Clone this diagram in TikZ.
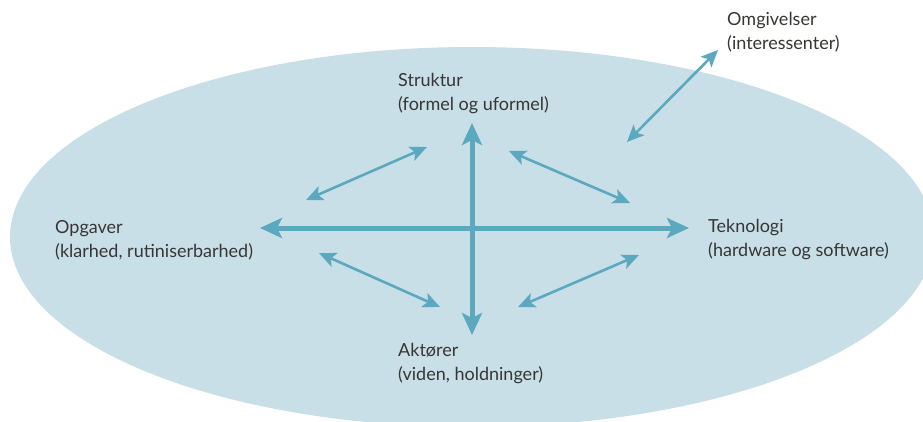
\documentclass[tikz,border=0pt]{standalone}
\usepackage{fontspec}
\setmainfont{Lato}
\usetikzlibrary{arrows.meta}
\definecolor{bgblue}{HTML}{C8DFE8}
\definecolor{arrblue}{HTML}{5BA8BF}
\definecolor{txt}{HTML}{383634}
\tikzset{
  lbl/.style={anchor=west, align=left, text=txt, inner sep=0pt, font=\fontsize{18}{24}\selectfont},
  bigarrow/.style={draw=arrblue, line width=5pt, {Stealth[length=22pt,width=20pt,inset=5pt]}-{Stealth[length=22pt,width=20pt,inset=5pt]}},
  smallarrow/.style={draw=arrblue, line width=2.6pt, {Stealth[length=17pt,width=15pt,inset=4pt]}-{Stealth[length=17pt,width=15pt,inset=4pt]}}
}
\begin{document}
\begin{tikzpicture}[x=1pt,y=-1pt]
\useasboundingbox (0,0) rectangle (923,421);
\clip (0,0) rectangle (923,421);
\fill[bgblue] (472,237) ellipse [x radius=462, y radius=190];
% labels
\node[lbl] (omg) at (727,32) {Omgivelser\\(interessenter)};
\node[lbl] (str) at (398,94) {Struktur\\(formel og uformel)};
\node[lbl] (opg) at (55,240) {Opgaver\\(klarhed, rutiniserbarhed)};
\node[lbl] (tek) at (708,240) {Teknologi\\(hardware og software)};
\node[lbl] (akt) at (398,364) {Aktører\\(viden, holdninger)};
% arrow end points
\coordinate (hL) at (260,228);
\coordinate (hR) at (689,228);
\coordinate (vT) at (472,123);
\coordinate (vB) at (472,335);
\coordinate (ulA) at (306,200);
\coordinate (ulB) at (427,147);
\coordinate (urA) at (509,151);
\coordinate (urB) at (630,203);
\coordinate (llA) at (319,253);
\coordinate (llB) at (440,307);
\coordinate (lrA) at (639,255);
\coordinate (lrB) at (518,307);
\coordinate (omA) at (718,50);
\coordinate (omB) at (627,142);
% arrows
\draw[bigarrow] (hL) -- (hR);
\draw[bigarrow] (vT) -- (vB);
\draw[smallarrow] (ulA) -- (ulB);
\draw[smallarrow] (urA) -- (urB);
\draw[smallarrow] (llA) -- (llB);
\draw[smallarrow] (lrA) -- (lrB);
\draw[smallarrow] (omA) -- (omB);
\end{tikzpicture}
\end{document}
